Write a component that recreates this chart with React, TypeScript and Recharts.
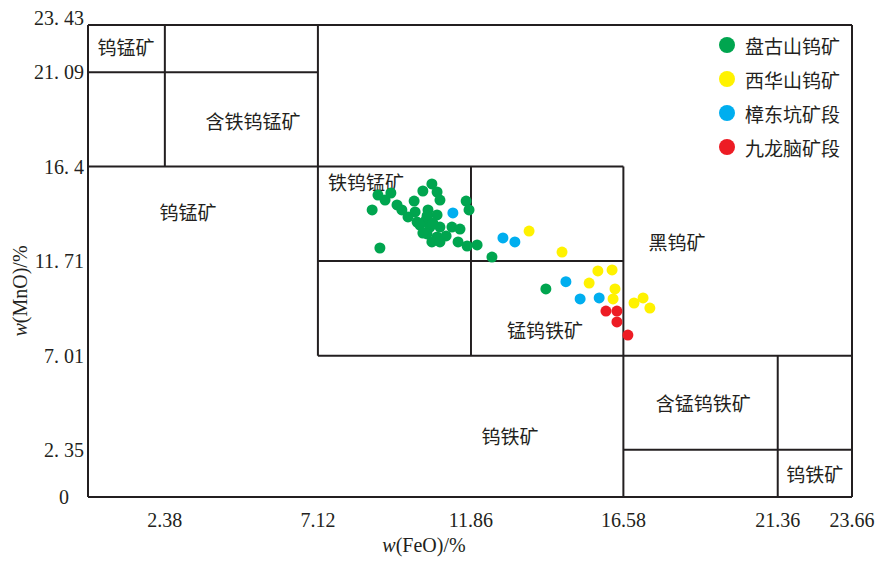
import React from "react";
import { ScatterChart, Scatter, XAxis, YAxis, ReferenceLine, Legend, Label } from "recharts";

const ink = "#231f20";
const serif = "'Liberation Serif', 'Times New Roman', serif";
const cjk = "'Noto Sans CJK SC', sans-serif";

// axis ticks
const xTicks = [2.38, 7.12, 11.86, 16.58, 21.36, 23.66];
const yTicks = [0, 2.35, 7.01, 11.71, 16.4, 21.09, 23.43];
const yTickLabels = ["0", "2. 35", "7. 01", "11. 71", "16. 4", "21. 09", "23. 43"];

// samples: FeO (x) vs MnO (y), wt%
const pangushan = [
  { x: 10.65, y: 15.54 }, { x: 10.37, y: 15.19 }, { x: 10.81, y: 15.14 }, { x: 8.98, y: 14.99 },
  { x: 9.38, y: 15.09 }, { x: 10.9, y: 14.74 }, { x: 11.71, y: 14.69 }, { x: 8.8, y: 14.25 },
  { x: 9.2, y: 14.74 }, { x: 9.57, y: 14.5 }, { x: 10.1, y: 14.69 }, { x: 10.13, y: 14.15 },
  { x: 9.72, y: 14.25 }, { x: 10.53, y: 14.25 }, { x: 10.81, y: 14.0 }, { x: 11.8, y: 14.25 },
  { x: 9.91, y: 13.9 }, { x: 10.19, y: 13.65 }, { x: 10.47, y: 13.75 }, { x: 10.59, y: 13.4 },
  { x: 10.9, y: 13.4 }, { x: 11.27, y: 13.4 }, { x: 11.52, y: 13.3 }, { x: 10.5, y: 13.06 },
  { x: 10.81, y: 12.91 }, { x: 11.09, y: 12.96 }, { x: 10.65, y: 12.66 }, { x: 10.9, y: 12.66 },
  { x: 11.46, y: 12.66 }, { x: 11.74, y: 12.46 }, { x: 12.05, y: 12.51 }, { x: 9.04, y: 12.36 },
  { x: 12.51, y: 11.91 }, { x: 14.18, y: 10.33 }, { x: 10.28, y: 13.5 }, { x: 10.37, y: 13.1 },
  { x: 10.5, y: 13.95 }, { x: 10.68, y: 13.6 },
];
const xihuashan = [
  { x: 13.66, y: 13.2 }, { x: 14.68, y: 12.16 }, { x: 15.79, y: 11.22 }, { x: 16.23, y: 11.27 },
  { x: 15.52, y: 10.62 }, { x: 16.32, y: 10.33 }, { x: 16.26, y: 9.83 }, { x: 16.91, y: 9.63 },
  { x: 17.19, y: 9.88 }, { x: 17.4, y: 9.38 },
];
const zhangdongkeng = [
  { x: 11.3, y: 14.1 }, { x: 12.85, y: 12.86 }, { x: 13.22, y: 12.66 },
  { x: 14.8, y: 10.69 }, { x: 15.24, y: 9.83 }, { x: 15.83, y: 9.88 },
];
const jiulongnao = [
  { x: 16.04, y: 9.23 }, { x: 16.38, y: 9.23 }, { x: 16.38, y: 8.69 }, { x: 16.72, y: 8.04 },
];

const series = [
  { name: "盘古山钨矿", color: "#00a54f", data: pangushan },
  { name: "西华山钨矿", color: "#fff200", data: xihuashan },
  { name: "樟东坑矿段", color: "#00aeef", data: zhangdongkeng },
  { name: "九龙脑矿段", color: "#ed1c24", data: jiulongnao },
];

// classification field boundaries [x1, y1, x2, y2]
const boundaries = [
  [0, 21.09, 7.12, 21.09],
  [2.38, 16.4, 2.38, 23.43],
  [7.12, 7.01, 7.12, 23.43],
  [0, 16.4, 16.58, 16.4],
  [16.58, 0, 16.58, 16.4],
  [11.86, 7.01, 11.86, 16.4],
  [7.12, 11.71, 16.58, 11.71],
  [7.12, 7.01, 23.66, 7.01],
  [21.36, 0, 21.36, 7.01],
  [16.58, 2.35, 23.66, 2.35],
  [0, 23.43, 23.66, 23.43],
  [23.66, 0, 23.66, 23.43],
];

// field names, anchored in data units
const regionLabels = [
  { x: 1.18, y: 22.29, name: "钨锰矿" },
  { x: 5.11, y: 18.61, name: "含铁钨锰矿" },
  { x: 3.1, y: 14.1, name: "钨锰矿" },
  { x: 8.61, y: 15.59, name: "铁钨锰矿" },
  { x: 18.24, y: 12.61, name: "黑钨矿" },
  { x: 14.15, y: 8.24, name: "锰钨铁矿" },
  { x: 19.05, y: 4.62, name: "含锰钨铁矿" },
  { x: 13.07, y: 2.98, name: "钨铁矿" },
  { x: 22.51, y: 1.09, name: "钨铁矿" },
];

const XTick = (props: any) => {
  const { x, y, payload } = props;
  return (
    <text x={x} y={y + 28} textAnchor="middle" fontFamily={serif} fontSize={20} fill={ink}>
      {payload.value}
    </text>
  );
};

const YTick = (props: any) => {
  const { x, y, payload, index } = props;
  const top = payload.value === 23.43;
  const zero = payload.value === 0;
  return (
    <text
      x={x - 2 - (zero ? 15 : 0)}
      y={y + (top ? 0 : 7)}
      textAnchor="end"
      fontFamily={serif}
      fontSize={20}
      fill={ink}
    >
      {yTickLabels[yTicks.indexOf(payload.value)] ?? index}
    </text>
  );
};

const RegionText = (props: any) => (
  <text
    x={props.cx}
    y={props.cy + 7}
    textAnchor="middle"
    fontFamily={cjk}
    fontSize={19}
    fill={ink}
  >
    {props.payload.name}
  </text>
);

const renderLegend = () => (
  <div style={{ fontFamily: cjk, fontSize: 19, color: ink }}>
    {series.map((s) => (
      <div key={s.name} style={{ display: "flex", alignItems: "center", height: 34 }}>
        <span
          style={{
            display: "inline-block",
            width: 16,
            height: 16,
            borderRadius: "50%",
            background: s.color,
            marginRight: 10,
          }}
        />
        {s.name}
      </div>
    ))}
  </div>
);

export default function App() {
  return (
    <div style={{ position: "absolute", left: 0, top: 0, background: "#fff" }}>
      <ScatterChart width={877} height={562} margin={{ top: 25, right: 25, bottom: 5, left: 8 }}>
        <XAxis
          type="number"
          dataKey="x"
          domain={[0, 23.66]}
          ticks={xTicks}
          interval={0}
          tick={<XTick />}
          tickLine={false}
          tickSize={0}
          height={60}
          axisLine={{ stroke: ink, strokeWidth: 2 }}
          allowDataOverflow
        >
          <Label
            content={(p: any) => (
              <text x={p.viewBox.x + 336} y={p.viewBox.y + 55} textAnchor="middle" fontFamily={serif} fontSize={20} fill={ink}>
                <tspan fontStyle="italic">w</tspan>(FeO)/%
              </text>
            )}
          />
        </XAxis>
        <YAxis
          type="number"
          dataKey="y"
          domain={[0, 23.43]}
          ticks={yTicks}
          interval={0}
          tick={<YTick />}
          tickLine={false}
          tickSize={0}
          width={80}
          axisLine={{ stroke: ink, strokeWidth: 2 }}
          allowDataOverflow
        >
          <Label
            content={(p: any) => {
              const cx = p.viewBox.x + 12;
              const cy = p.viewBox.y + 266;
              return (
                <text
                  x={cx}
                  y={cy}
                  transform={`rotate(-90 ${cx} ${cy})`}
                  textAnchor="middle"
                  dominantBaseline="central"
                  fontFamily={serif}
                  fontSize={20}
                  fill={ink}
                >
                  <tspan fontStyle="italic">w</tspan>(MnO)/%
                </text>
              );
            }}
          />
        </YAxis>
        {boundaries.map((b, i) => (
          <ReferenceLine
            key={i}
            segment={[
              { x: b[0], y: b[1] },
              { x: b[2], y: b[3] },
            ]}
            stroke={ink}
            strokeWidth={2}
            ifOverflow="visible"
          />
        ))}
        <Scatter
          name="regions"
          data={regionLabels}
          shape={<RegionText />}
          legendType="none"
          isAnimationActive={false}
        />
        {series.map((s) => (
          <Scatter
            key={s.name}
            name={s.name}
            data={s.data}
            fill={s.color}
            isAnimationActive={false}
            shape={(p: any) => <circle cx={p.cx} cy={p.cy} r={5.5} fill={s.color} />}
          />
        ))}
        <Legend
          layout="horizontal"
          verticalAlign="middle"
          content={renderLegend}
          wrapperStyle={{ left: 719, top: 28, width: 150 }}
        />
      </ScatterChart>
    </div>
  );
}
